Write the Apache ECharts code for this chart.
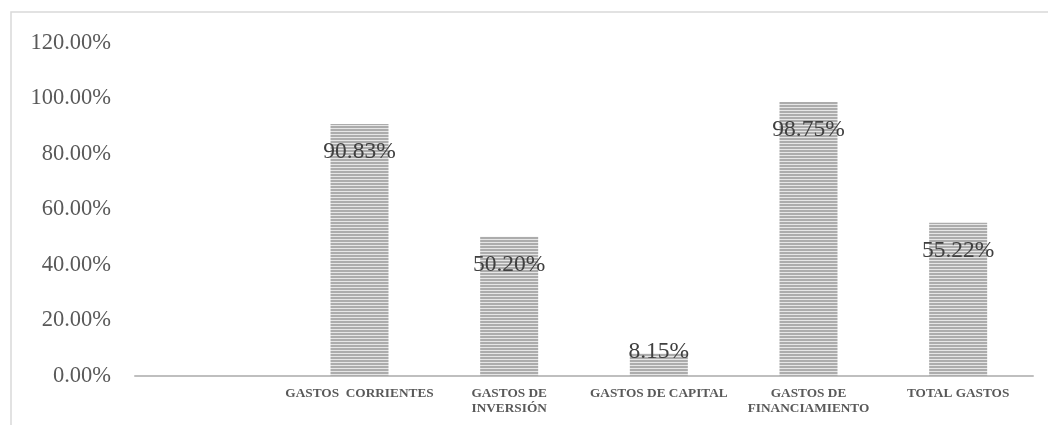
<!DOCTYPE html>
<html>
<head>
<meta charset="utf-8">
<script src="https://cdn.jsdelivr.net/npm/echarts@6/dist/echarts.min.js"></script>
<style>
  html, body { margin: 0; padding: 0; background: #fff; }
  #chart { width: 1048px; height: 425px; }
</style>
</head>
<body>
<div id="chart"></div>
<script>
// datos
const categorias = ['', 'GASTOS  CORRIENTES', 'GASTOS DE\nINVERSIÓN', 'GASTOS DE CAPITAL', 'GASTOS DE\nFINANCIAMIENTO', 'TOTAL GASTOS']
const ejecucion = [null, 90.83, 50.20, 8.15, 98.75, 55.22]
const ticksY = [0, 20, 40, 60, 80, 100, 120]

// patron de rayas horizontales
const rayas = document.createElement('canvas')
rayas.width = 4
rayas.height = 3
const ctx = rayas.getContext('2d')
ctx.fillStyle = '#e6e6e6'
ctx.fillRect(0, 0, 4, 3)
ctx.fillStyle = '#acacac'
ctx.fillRect(0, 0, 4, 2)

const fuente = '"Liberation Serif", "Times New Roman", serif'

const datos = ejecucion.map(v => {
  if (v === null) return '-'
  if (v < 15) {
    // barra corta: etiqueta sobre el borde
    return { value: v, label: { position: 'top', distance: -10 } }
  }
  return v
})

const myChart = echarts.init(document.getElementById('chart'))
const option = {
  animation: false,
  textStyle: { fontFamily: fuente },
  graphic: [
    {
      type: 'rect',
      shape: { x: 11, y: 12, width: 1200, height: 600 },
      style: { fill: 'none', stroke: '#d9d9d9', lineWidth: 1.5 },
      silent: true
    }
  ],
  grid: { left: 135, right: 15, top: 43, bottom: 49 },
  xAxis: {
    type: 'category',
    data: categorias,
    axisLine: { show: true, lineStyle: { color: '#bfbfbf', width: 2 } },
    axisTick: { show: false },
    axisLabel: {
      interval: 0,
      color: '#595959',
      fontFamily: fuente,
      fontWeight: 'bold',
      fontSize: 13.3,
      lineHeight: 15,
      margin: 10
    }
  },
  yAxis: {
    type: 'value',
    min: ticksY[0],
    max: ticksY[ticksY.length - 1],
    interval: 20,
    axisLine: { show: false },
    axisTick: { show: false },
    splitLine: { show: false },
    axisLabel: {
      color: '#595959',
      fontFamily: fuente,
      fontSize: 22.5,
      margin: 24,
      formatter: v => v.toFixed(2) + '%'
    }
  },
  series: [
    {
      type: 'bar',
      data: datos,
      barWidth: 58,
      itemStyle: { color: { image: rayas, repeat: 'repeat' } },
      label: {
        show: true,
        position: 'insideTop',
        distance: 16,
        color: '#404040',
        fontFamily: fuente,
        fontSize: 23.5,
        formatter: p => p.value.toFixed(2) + '%'
      }
    }
  ]
}
myChart.setOption(option)
</script>
</body>
</html>
